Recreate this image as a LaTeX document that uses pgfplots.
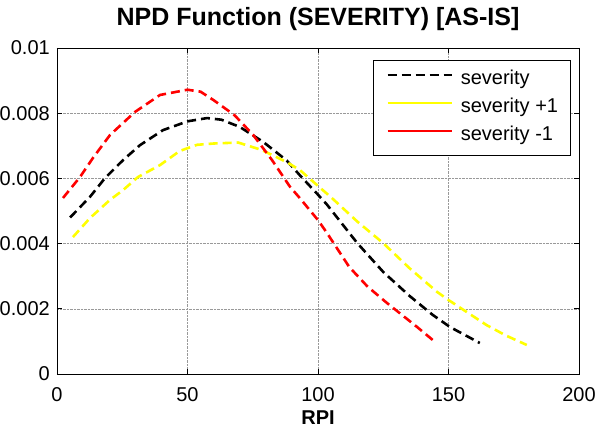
\documentclass[border=0pt]{standalone}
\usepackage{fontspec}
\setmainfont{Liberation Sans}
\usepackage{pgfplots}
\pgfplotsset{compat=1.18}
\definecolor{myyellow}{RGB}{255,255,0}
\definecolor{myred}{RGB}{255,0,0}
\begin{document}
\begin{tikzpicture}
\begin{axis}[
 at={(0pt,0pt)}, anchor=south west,
 scale only axis, width=522pt, height=326pt,
 xmin=0,xmax=200,ymin=0,ymax=0.01,
 xtick={0,50,100,150,200}, xticklabels={0,50,100,150,200},
 ytick={0,0.002,0.004,0.006,0.008,0.01}, yticklabels={0,0.002,0.004,0.006,0.008,0.01},
 scaled y ticks=false,
 tick align=inside, major tick length=5pt,
 tick style={black, line width=0.6pt},
 axis line style={black, line width=0.8pt},
 grid=major, grid style={densely dotted, black!40, line width=0.5pt},
 tick label style={font=\fontsize{20}{24}\selectfont, inner sep=0pt},
 xticklabel shift=13pt, yticklabel shift=7pt,
 title={NPD Function (SEVERITY) [AS-IS]},
 title style={font=\bfseries\fontsize{25}{30}\selectfont, at={(axis description cs:0.5,1)}, anchor=base, yshift=16pt, inner sep=0pt},
 xlabel={RPI},
 xlabel style={font=\bfseries\fontsize{20}{24}\selectfont, at={(axis description cs:0.5,0)}, anchor=base, yshift=-51pt, inner sep=0pt},
 legend cell align=left,
 legend style={at={(axis description cs:1,1)}, anchor=north east, xshift=-8pt, yshift=-12pt,
   draw=black, line width=0.8pt, font=\fontsize{20}{24}\selectfont,
   nodes={inner sep=0pt, text height=14pt, text depth=4pt},
   column sep=8pt, row sep=10pt, inner xsep=12.5pt, inner ysep=10.5pt},
 legend image code/.code={\draw[#1] (0pt,5pt) -- (64pt,5pt);},
]
\addplot[forget plot, black, line width=2.6pt, dash pattern=on 9pt off 5pt] coordinates {
(5,0.00480)(12.6,0.00543)(18.4,0.00601)(25.3,0.00656)(31.8,0.00702)(40.6,0.00748)
(50,0.00775)(57.5,0.00785)(63,0.00780)(70,0.00758)(79,0.00712)(88,0.00655)(93,0.0061)
(100,0.0055)(103.4,0.0052)(115,0.00402)(125,0.00313)(135,0.0024)(144,0.00181)
(150.6,0.00144)(162,0.00095)};
\addplot[forget plot, myyellow, line width=2.6pt, dash pattern=on 9pt off 5pt] coordinates {
(6.1,0.0042)(12.6,0.00478)(20.3,0.00534)(25.3,0.00564)(31,0.00604)(39.5,0.00641)
(47,0.00684)(53.6,0.00703)(60,0.00707)(69.4,0.00710)(78.5,0.00687)(88,0.0065)
(93,0.00626)(100,0.00577)(105.7,0.00537)(115,0.00468)(124.9,0.00402)(135,0.00325)
(145.6,0.00252)(150,0.00227)(157,0.0019)(164.6,0.0015)(172,0.00118)(180,0.00089)};
\addplot[forget plot, myred, line width=2.6pt, dash pattern=on 9pt off 5pt] coordinates {
(2.3,0.0054)(8.8,0.00604)(13.8,0.00663)(20.3,0.00733)(29.9,0.00804)(39.5,0.00856)
(50,0.00872)(55,0.00866)(60,0.0084)(68,0.00794)(75.2,0.00733)(82.4,0.00656)
(89.3,0.00574)(93,0.00540)(100,0.00472)(103.4,0.00433)(112,0.00328)(119,0.00268)
(126.4,0.00218)(138,0.00144)(144,0.00104)};
\addlegendimage{black, line width=2.6pt, dash pattern=on 9pt off 5pt}
\addlegendentry{severity}
\addlegendimage{myyellow, line width=2.6pt}
\addlegendentry{severity +1}
\addlegendimage{myred, line width=2.6pt}
\addlegendentry{severity -1}
\end{axis}
\pgfresetboundingbox
\useasboundingbox (-57pt,-54pt) rectangle (541pt,374pt);
\end{tikzpicture}
\end{document}
